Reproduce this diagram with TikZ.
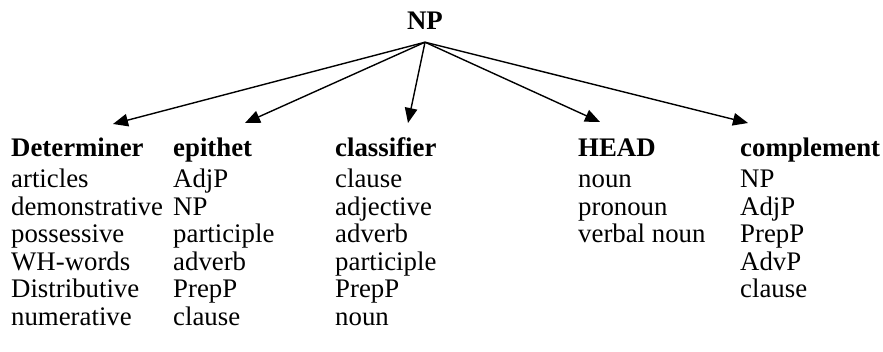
\documentclass[tikz,border=0pt]{standalone}
\usepackage{fontspec}
\setmainfont{Liberation Serif}
\usetikzlibrary{arrows.meta,positioning}
\newcommand{\colhead}[1]{\rule{0pt}{20pt}\textbf{#1}}
\begin{document}
\begin{tikzpicture}[x=1pt, y=-1pt,
    col/.style={anchor=north west, inner sep=0pt, align=left, font=\fontsize{26.8}{27.5}\selectfont},
    root/.style={anchor=base, inner sep=0pt, font=\fontsize{26.8}{27.5}\selectfont\bfseries},
    arrow/.style={-{Triangle[length=15pt,width=12.5pt]}, line width=1.4pt}
]
    \useasboundingbox (0,0) rectangle (883,351);

    % Root of the phrase
    \node[root] (np) at (425,29) {NP};
    \coordinate[below=13pt of np] (apex);

    % Columns of constituents
    \node[col] (det) at (11,136) {\colhead{Determiner}\\[4pt] articles\\ demonstrative\\ possessive\\ WH-words\\ Distributive\\ numerative};
    \node[col] (epi) at (173,136) {\colhead{epithet}\\[4pt] AdjP\\ NP\\ participle\\ adverb\\ PrepP\\ clause};
    \node[col] (cls) at (335,136) {\colhead{classifier}\\[4pt] clause\\ adjective\\ adverb\\ participle\\ PrepP\\ noun};
    \node[col] (head) at (578,136) {\colhead{HEAD}\\[4pt] noun\\ pronoun\\ verbal noun};
    \node[col] (comp) at (740,136) {\colhead{complement}\\[4pt] NP\\ AdjP\\ PrepP\\ AdvP\\ clause};

    % Arrow ends above the columns
    \coordinate (det-tip) at (113,124);
    \coordinate (epi-tip) at (245,123);
    \coordinate (cls-tip) at (408,123);
    \coordinate (head-tip) at (600,122);
    \coordinate (comp-tip) at (748,123);

    % Arrows from NP
    \draw[arrow] (apex) -- (det-tip);
    \draw[arrow] (apex) -- (epi-tip);
    \draw[arrow] (apex) -- (cls-tip);
    \draw[arrow] (apex) -- (head-tip);
    \draw[arrow] (apex) -- (comp-tip);
\end{tikzpicture}
\end{document}
